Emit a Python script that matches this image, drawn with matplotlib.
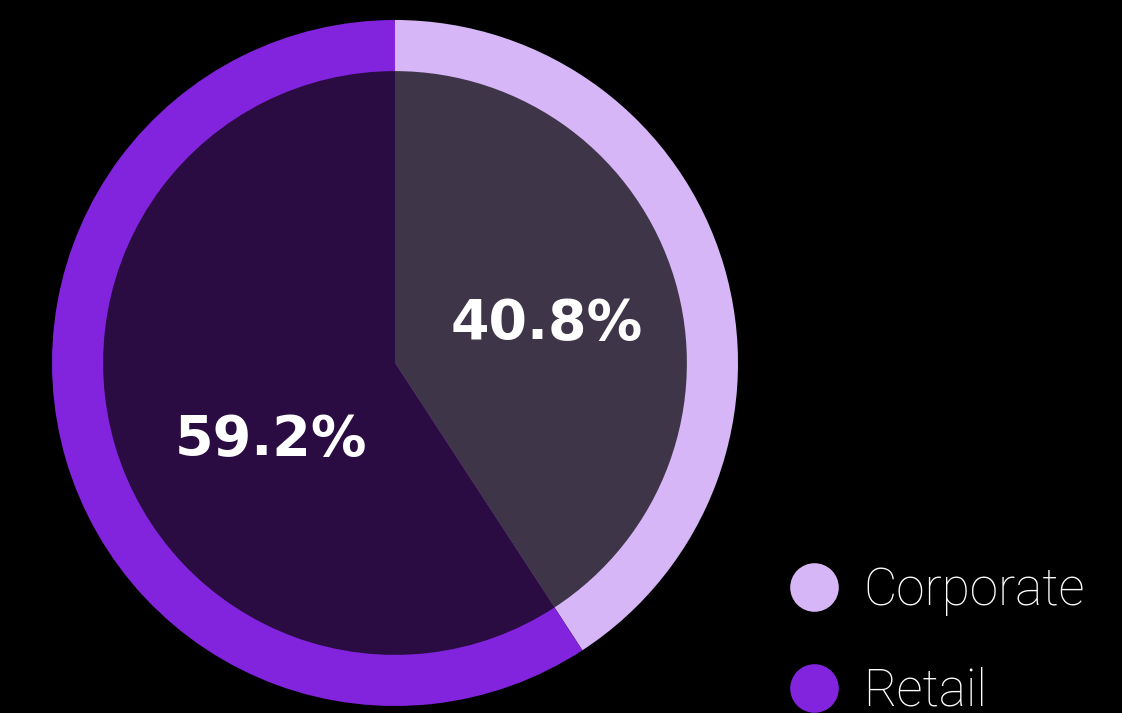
import matplotlib.pyplot as plt
from matplotlib.lines import Line2D

# data
labels = ["Corporate", "Retail"]
shares = [40.8, 59.2]
ring_colors = ["#D6B6F6", "#8223DE"]
fill_colors = ["#3F3549", "#2A0C42"]

fig = plt.figure(figsize=(11.22, 7.13), dpi=100, facecolor="black")
W, H = 1122, 713
ax = fig.add_axes([52 / W, 7 / H, 686 / W, 686 / H])
ax.set_facecolor("black")

# outer ring
ax.pie(shares, colors=ring_colors, startangle=90, counterclock=False,
       radius=1.0, wedgeprops=dict(linewidth=0))
# inner fill with percentages
wedges, texts, autotexts = ax.pie(
    shares, colors=fill_colors, startangle=90, counterclock=False,
    radius=0.851, wedgeprops=dict(linewidth=0),
    autopct=lambda p: f"{p:.1f}%", pctdistance=0.54,
    textprops=dict(color="white", fontsize=40, fontweight="heavy",
                   family="DejaVu Sans"))
# nudge labels to where the reference puts them
autotexts[0].set_position((152 / 343, 39 / 343))
autotexts[1].set_position((-124 / 343, -77 / 343))
for t in autotexts:
    t.set_ha("center")
    t.set_va("center")

ax.set_xlim(-1, 1)
ax.set_ylim(-1, 1)
ax.set_aspect("equal")
ax.axis("off")

handles = [Line2D([], [], linestyle="none", marker="o", markersize=35,
                  markerfacecolor=c, markeredgewidth=0) for c in ring_colors]
leg = fig.legend(handles, labels, loc="upper left",
                 bbox_to_anchor=(768 / W, 1 - 545 / H), frameon=False,
                 labelcolor="white", handlelength=1.0,
                 handletextpad=0.45, labelspacing=1.0, borderaxespad=0,
                 prop=dict(family="Roboto", weight="light", size=37))

fig.savefig("out.png", dpi=100, facecolor="black")
